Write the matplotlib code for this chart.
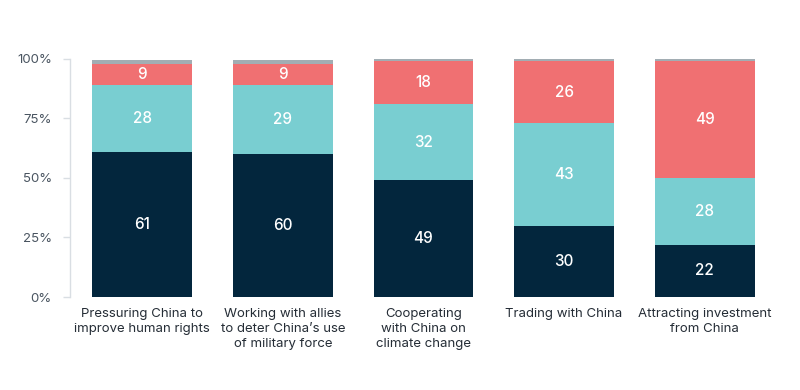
import matplotlib.pyplot as plt
import numpy as np

plt.rcParams['font.family'] = ['Inter', 'DejaVu Sans']

categories = [
    "Pressuring China to\nimprove human rights",
    "Working with allies\nto deter China\u2019s use\nof military force",
    "Cooperating\nwith China on\nclimate change",
    "Trading with China",
    "Attracting investment\nfrom China",
]
navy_vals = [61, 60, 49, 30, 22]
teal_vals = [28, 29, 32, 43, 28]
red_vals = [9, 9, 18, 26, 49]
gray_vals = [1.5, 1.5, 1.5, 1, 1]
yticks = [0, 25, 50, 75, 100]

colors = ["#03263d", "#79ced1", "#f07072", "#a2adb3"]
series = [navy_vals, teal_vals, red_vals, gray_vals]

fig = plt.figure(figsize=(8, 3.9), dpi=100)
ax = fig.add_axes([70 / 800, 1 - 297 / 390, (775 - 70) / 800, (297 - 59) / 390])

x = np.arange(len(categories))
bottom = np.zeros(len(categories))
for i, (vals, col) in enumerate(zip(series, colors)):
    vals = np.array(vals, dtype=float)
    ax.bar(x, vals, bottom=bottom, width=0.71, color=col, linewidth=0)
    if i < 3:
        for xi, b, v in zip(x, bottom, vals):
            ax.text(xi, b + v / 2, f"{int(v)}", ha="center", va="center",
                    color="white", fontsize=11, fontweight="medium")
    bottom += vals

ax.set_xlim(-0.514, 4.5)
ax.set_ylim(0, 100)
ax.set_yticks(yticks)
ax.set_yticklabels([f"{t}%" for t in yticks], fontsize=9.5, color="#4a5561")
ax.set_xticks(x)
ax.set_xticklabels(categories, fontsize=9.5, color="#252d36", linespacing=1.3,
                   va="top")
ax.tick_params(axis="x", length=0, pad=8)
ax.tick_params(axis="y", length=5, color="#d9dee3", width=1, pad=8)

for s in ["top", "right", "bottom"]:
    ax.spines[s].set_visible(False)
ax.spines["left"].set_color("#d9dee3")
ax.spines["left"].set_linewidth(1)

fig.savefig("out.png", dpi=100)
